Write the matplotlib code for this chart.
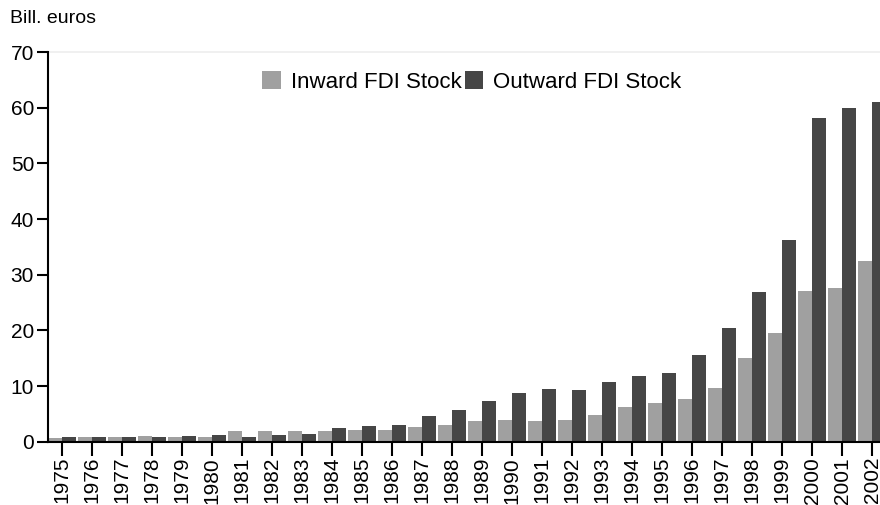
import matplotlib
matplotlib.use("Agg")
import matplotlib.pyplot as plt
import numpy as np

plt.rcParams['font.family'] = ['Liberation Sans', 'DejaVu Sans']

years = [str(y) for y in range(1975, 2003)]
inward = [0.67, 0.85, 0.85, 1.0, 0.85, 0.85, 1.9, 1.9, 1.9, 1.9, 2.1, 2.1, 2.6, 3.0,
          3.7, 3.9, 3.7, 3.9, 4.8, 6.2, 7.0, 7.7, 9.7, 15.1, 19.6, 27.1, 27.6, 32.5]
outward = [0.85, 0.85, 0.85, 0.85, 1.0, 1.2, 0.85, 1.2, 1.4, 2.5, 2.8, 3.0, 4.6, 5.7,
           7.3, 8.8, 9.5, 9.3, 10.7, 11.8, 12.4, 15.6, 20.5, 26.9, 36.3, 58.2, 60.0, 61.1]
yticks = [0, 10, 20, 30, 40, 50, 60, 70]

light = '#a0a0a0'
dark = '#464646'

W, H = 880, 505
fig = plt.figure(figsize=(W / 100, H / 100), dpi=100)
ax = fig.add_axes([48 / W, (H - 441.7) / H, 1 - 48 / W, (441.7 - 52) / H])

x = np.arange(len(years))
bw = 14 / 30
ax.bar(x - bw / 2, inward, width=bw, color=light, label='Inward FDI Stock', zorder=2)
ax.bar(x + bw / 2, outward, width=bw, color=dark, label='Outward FDI Stock', zorder=2)

ax.set_xlim(-14 / 30, len(years) - 1 + 8 / 30)
ax.set_ylim(0, 70)
ax.axhline(70, color='#eeeeee', lw=1.2, zorder=1, clip_on=False)

ax.set_yticks(yticks)
ax.set_yticklabels([str(v) for v in yticks], fontsize=15)
ax.set_xticks(x)
ax.set_xticklabels(years, rotation=90, fontsize=15)

for s in ['top', 'right']:
    ax.spines[s].set_visible(False)
for s in ['left', 'bottom']:
    ax.spines[s].set_linewidth(1.5)
    ax.spines[s].set_color('black')
ax.tick_params(axis='y', length=8, width=1.5, pad=2)
ax.tick_params(axis='x', length=10, width=1.5, pad=1)

fig.text(10 / W, 1 - 10 / H, 'Bill. euros', fontsize=14, ha='left', va='top')

leg = fig.legend(loc='center left', bbox_to_anchor=(262 / W, 1 - 82 / H), ncol=2,
                 frameon=False, fontsize=16, handlelength=0.85, handleheight=0.85,
                 handletextpad=0.45, columnspacing=0.13, borderpad=0, borderaxespad=0)

fig.savefig('out.png', dpi=100)
